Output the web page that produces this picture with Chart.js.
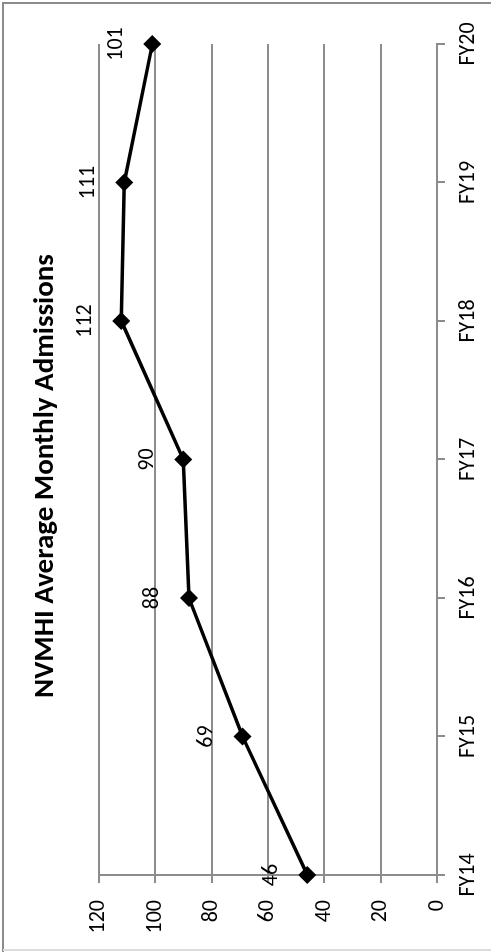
<!DOCTYPE html>
<html>
<head>
<meta charset="utf-8">
<title>NVMHI Average Monthly Admissions</title>
<script src="https://cdn.jsdelivr.net/npm/chart.js@4/dist/chart.umd.min.js"></script>
<style>
  html, body { margin: 0; padding: 0; background: #fff; }
  #wrap { position: relative; width: 491px; height: 952px; overflow: hidden; }
  /* the chart is drawn landscape and turned a quarter turn to the left */
  #my-chart {
    position: absolute; left: 0; top: 0;
    transform-origin: 0 0;
    transform: translate(0, 952px) rotate(-90deg);
  }
</style>
</head>
<body>
<div id="wrap">
  <canvas id="my-chart" width="952" height="491"></canvas>
</div>
<script>
'use strict';

// ******** DATA *******
let fiscalYears = ['FY14', 'FY15', 'FY16', 'FY17', 'FY18', 'FY19', 'FY20'];
let admissions = [46, 69, 88, 90, 112, 111, 101];
let valueTicks = [0, 20, 40, 60, 80, 100, 120];
let chartTitle = 'NVMHI Average Monthly Admissions';

let fontFamily = 'Carlito, Calibri, Lato, sans-serif';
let ctx = document.getElementById('my-chart');

// value labels above each point
let pointLabels = {
  id: 'pointLabels',
  afterDatasetsDraw(chart) {
    let c = chart.ctx;
    let meta = chart.getDatasetMeta(0);
    c.save();
    c.font = '22px ' + fontFamily;
    c.fillStyle = '#000';
    c.textAlign = 'center';
    c.textBaseline = 'middle';
    for (let i = 0; i < meta.data.length; i++) {
      let pt = meta.data[i];
      c.fillText(String(admissions[i]), pt.x, pt.y - 36);
    }
    c.restore();
  }
};

// outer frame of the chart
let frame = {
  id: 'frame',
  beforeDraw(chart) {
    let c = chart.ctx;
    let w = chart.width;
    c.save();
    c.lineWidth = 2;
    c.strokeStyle = '#8c8c8c';
    c.beginPath();
    c.moveTo(0, 3);
    c.lineTo(w - 3, 3);
    c.lineTo(w - 3, chart.height);
    c.stroke();
    c.strokeStyle = '#dcdcdc';
    c.beginPath();
    c.moveTo(2, 3);
    c.lineTo(2, chart.height);
    c.stroke();
    c.restore();
  }
};

let chartObject = {
  type: 'line',
  data: {
    labels: fiscalYears,
    datasets: [{
      label: 'Average Monthly Admissions',
      data: admissions,
      borderColor: '#000',
      backgroundColor: '#000',
      borderWidth: 3.5,
      pointStyle: 'rectRot',
      pointRadius: 9,
      pointBorderWidth: 0,
      pointBackgroundColor: '#000',
      tension: 0
    }]
  },
  options: {
    responsive: false,
    animation: false,
    devicePixelRatio: 1,
    layout: { padding: 0 },
    plugins: {
      legend: { display: false },
      tooltip: { enabled: false },
      title: {
        display: true,
        text: chartTitle,
        color: '#000',
        font: { family: fontFamily, size: 29, weight: 'bold', lineHeight: 1.2 },
        padding: { top: 28, bottom: 36 }
      }
    },
    scales: {
      x: {
        offset: false,
        grid: { drawOnChartArea: false, color: '#8c8c8c', lineWidth: 2, tickLength: 8 },
        border: { color: '#8c8c8c', width: 2 },
        ticks: { color: '#000', font: { family: fontFamily, size: 22 }, padding: 10, maxRotation: 0 },
        afterFit(scale) {
          scale.height = 54;
          scale.paddingRight = 44;
        }
      },
      y: {
        min: 0,
        max: 120,
        afterBuildTicks(scale) { scale.ticks = valueTicks.map(v => ({ value: v })); },
        grid: { color: '#8c8c8c', lineWidth: 2, tickLength: 8 },
        border: { color: '#8c8c8c', width: 2 },
        ticks: { color: '#000', font: { family: fontFamily, size: 22 }, padding: 17 },
        afterFit(scale) { scale.width = 77; }
      }
    }
  },
  plugins: [frame, pointLabels]
};

const myChart = new Chart(ctx, chartObject);
</script>
</body>
</html>
